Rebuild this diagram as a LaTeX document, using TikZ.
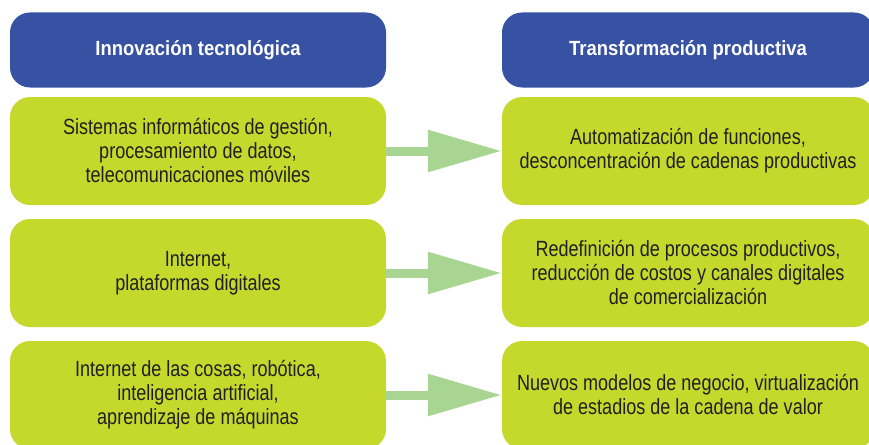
\documentclass[tikz,border=0pt]{standalone}
\usepackage{fontspec}
\setmainfont{Liberation Sans}[FakeStretch=0.82]
\newfontfamily\cabecera{Liberation Sans}[FakeStretch=0.9]
\usetikzlibrary{arrows.meta}
\definecolor{azul}{RGB}{55,81,163}
\definecolor{verde}{RGB}{197,217,45}
\definecolor{verdeclaro}{RGB}{168,214,146}
\definecolor{texto}{RGB}{35,31,32}
\tikzset{
	titulo/.style={fill=azul, rounded corners=20pt, minimum width=376pt, minimum height=75pt, text=white, font=\cabecera\fontsize{20.5}{24}\selectfont\bfseries},
	caja/.style={fill=verde, rounded corners=20pt, minimum width=376pt, minimum height=108pt, text=texto, align=center, font=\fontsize{22}{24}\selectfont},
	flecha/.style={draw=verdeclaro, line width=9pt, -{Triangle[length=74pt,width=40pt]}}
}
\begin{document}
\begin{tikzpicture}[x=1pt,y=-1pt]
	\useasboundingbox (0,0) rectangle (869,444);
	\clip (0,0) rectangle (869,444);
	
	\node[titulo] (ti) at (198,50) {Innovación tecnológica};
	\node[titulo, minimum width=372pt] (tt) at (688,50) {Transformación productiva};
	
	\node[caja] (i1) at (198,151) {Sistemas informáticos de gestión,\\procesamiento de datos,\\telecomunicaciones móviles};
	\node[caja] (i2) at (198,273) {Internet,\\plataformas digitales};
	\node[caja] (i3) at (198,395) {Internet de las cosas, robótica,\\inteligencia artificial,\\aprendizaje de máquinas};
	
	\node[caja, minimum width=372pt] (t1) at (688,151) {Automatización de funciones,\\desconcentración de cadenas productivas};
	\node[caja, minimum width=372pt] (t2) at (688,273) {Redefinición de procesos productivos,\\reducción de costos y canales digitales\\de comercialización};
	\node[caja, minimum width=372pt] (t3) at (688,395) {Nuevos modelos de negocio, virtualización\\de estadios de la cadena de valor};
	
	\foreach \i in {1,2,3} {
		\draw[flecha] (i\i.east) -- (t\i.west);
	};
	
\end{tikzpicture}
\end{document}
